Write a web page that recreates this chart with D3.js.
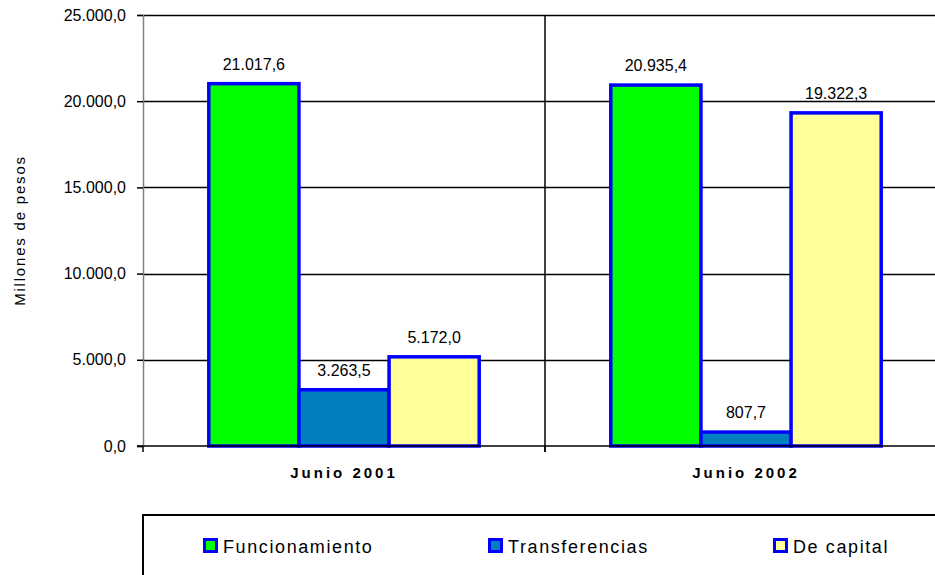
<!DOCTYPE html>
<html>
<head>
<meta charset="utf-8">
<script src="https://cdn.jsdelivr.net/npm/d3@7"></script>
<style>
  html, body { margin: 0; padding: 0; background: #fff; }
  svg { display: block; font-family: Arial, "Liberation Sans", sans-serif; }
</style>
</head>
<body>
<div id="chart"></div>
<script>
// periods and expense types
const periods = ['Junio 2001', 'Junio 2002'];
const seriesNames = ['Funcionamiento', 'Transferencias', 'De capital'];
const seriesColors = ['#00ff00', '#0080c0', '#ffff99'];
const funcionamiento = [21017.6, 20935.4];
const transferencias = [3263.5, 807.7];
const deCapital = [5172.0, 19322.3];
const yTicks = [0, 5000, 10000, 15000, 20000, 25000];

const W = 935, H = 575;
const plot = { left: 143, top: 15, right: 947, bottom: 446 };

const fmt = d3.formatLocale({ decimal: ',', thousands: '.', grouping: [3], currency: ['$', ''] }).format(',.1f');

const svg = d3.select('#chart').append('svg')
  .attr('width', W).attr('height', H);

const y = d3.scaleLinear().domain([0, 25000]).range([plot.bottom, plot.top]);
const x0 = d3.scaleBand().domain(periods).range([plot.left, plot.right]);
const x1 = d3.scaleBand().domain(seriesNames).range([0, x0.bandwidth()])
  .paddingInner(0).paddingOuter(0.73);

const rows = periods.map((p, i) => ({
  period: p,
  values: [funcionamiento[i], transferencias[i], deCapital[i]]
}));

// gridlines
svg.append('g').selectAll('line').data(yTicks.filter(t => t > 0))
  .join('line')
  .attr('x1', plot.left).attr('x2', plot.right)
  .attr('y1', d => Math.round(y(d)) + 0.5).attr('y2', d => Math.round(y(d)) + 0.5)
  .attr('stroke', '#000').attr('stroke-width', 1.5);

// y axis
const yAxis = svg.append('g')
  .attr('transform', `translate(${plot.left},0)`)
  .call(d3.axisLeft(y).tickValues(yTicks).tickSize(6).tickPadding(11).tickFormat(fmt));
yAxis.select('.domain').attr('stroke', '#808080').attr('stroke-width', 1.5);
yAxis.selectAll('.tick line').attr('stroke', '#000').attr('stroke-width', 1.5);
yAxis.selectAll('.tick text')
  .attr('font-size', '16px').attr('fill', '#000')
  .attr('font-family', 'Arial, "Liberation Sans", sans-serif');

// category separators
svg.append('g').selectAll('line').data(periods.slice(1))
  .join('line')
  .attr('x1', d => x0(d)).attr('x2', d => x0(d))
  .attr('y1', plot.top).attr('y2', plot.bottom + 6)
  .attr('stroke', '#000').attr('stroke-width', 1.5);

// bars
const groups = svg.append('g').selectAll('g').data(rows)
  .join('g')
  .attr('transform', d => `translate(${x0(d.period)},0)`);

groups.selectAll('rect')
  .data(d => d.values.map((v, j) => ({ name: seriesNames[j], value: v, color: seriesColors[j] })))
  .join('rect')
  .attr('x', d => x1(d.name))
  .attr('y', d => y(d.value))
  .attr('width', x1.bandwidth())
  .attr('height', d => plot.bottom - y(d.value))
  .attr('fill', d => d.color)
  .attr('stroke', '#0000ff')
  .attr('stroke-width', 3.5);

groups.selectAll('text')
  .data(d => d.values.map((v, j) => ({ name: seriesNames[j], value: v })))
  .join('text')
  .attr('x', d => x1(d.name) + x1.bandwidth() / 2)
  .attr('y', d => y(d.value) - 14)
  .attr('text-anchor', 'middle')
  .attr('font-size', '16px')
  .attr('fill', '#000')
  .text(d => fmt(d.value));

// x axis
const xAxis = svg.append('g')
  .attr('transform', `translate(0,${plot.bottom})`);
xAxis.append('line')
  .attr('x1', plot.left - 6).attr('x2', plot.right)
  .attr('stroke', '#000').attr('stroke-width', 1.5);
xAxis.selectAll('.xtick').data(periods)
  .join('line')
  .attr('class', 'xtick')
  .attr('x1', d => x0(d)).attr('x2', d => x0(d))
  .attr('y1', 0).attr('y2', 6)
  .attr('stroke', '#000').attr('stroke-width', 1.5);
xAxis.selectAll('text').data(periods)
  .join('text')
  .attr('x', d => x0(d) + x0.bandwidth() / 2)
  .attr('y', 32)
  .attr('text-anchor', 'middle')
  .attr('font-size', '15px')
  .attr('font-weight', 'bold')
  .attr('letter-spacing', '3px')
  .text(d => d);

// y title
svg.append('text')
  .attr('transform', `translate(25,${(plot.top + plot.bottom) / 2}) rotate(-90)`)
  .attr('text-anchor', 'middle')
  .attr('font-size', '15px')
  .attr('letter-spacing', '1.8px')
  .text('Millones de pesos');

// legend
const legend = svg.append('g');
legend.append('rect')
  .attr('x', plot.left).attr('y', 515)
  .attr('width', 900).attr('height', 100)
  .attr('fill', '#fff').attr('stroke', '#000').attr('stroke-width', 2);

const legendX = d3.scalePoint().domain(seriesNames).range([203, 773]);
const items = legend.selectAll('.item').data(seriesNames)
  .join('g')
  .attr('class', 'item')
  .attr('transform', d => `translate(${legendX(d)},538)`);
items.append('rect')
  .attr('x', 1.5).attr('y', 1.5)
  .attr('width', 12).attr('height', 12)
  .attr('fill', (d, i) => seriesColors[i])
  .attr('stroke', '#0000ff').attr('stroke-width', 3);
items.append('text')
  .attr('x', 20).attr('y', 15)
  .attr('font-size', '18px')
  .attr('letter-spacing', '1.6px')
  .text(d => d);
</script>
</body>
</html>
